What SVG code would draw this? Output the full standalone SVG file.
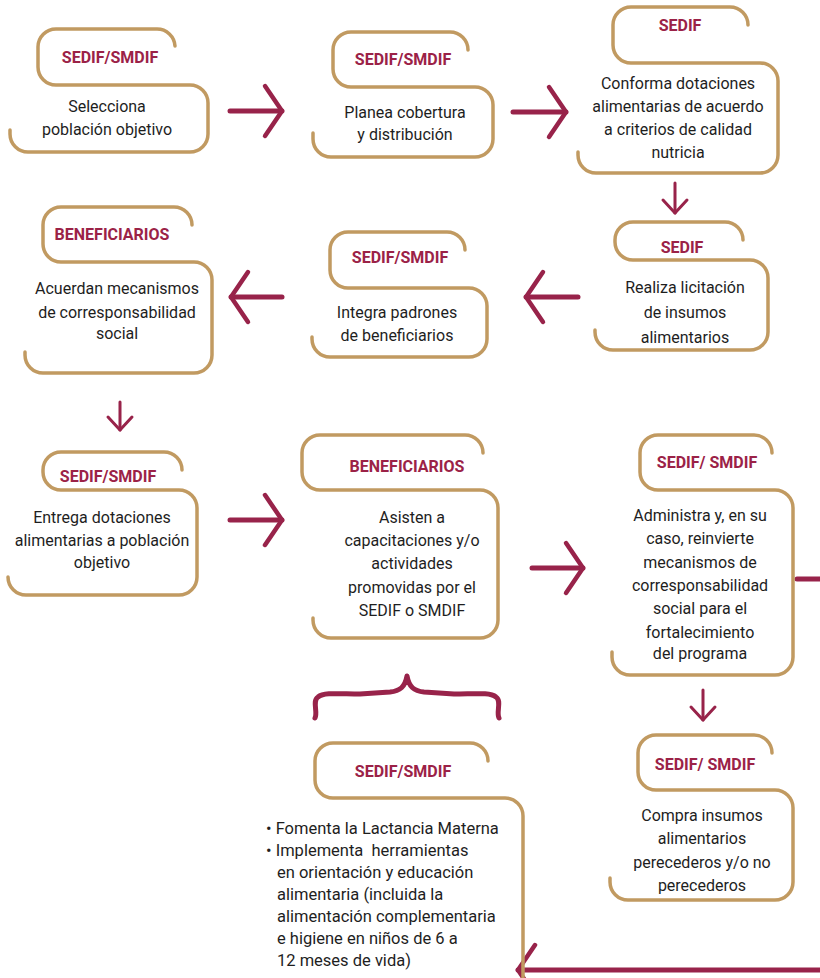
<svg xmlns="http://www.w3.org/2000/svg" width="820" height="978" viewBox="0 0 820 978">
<defs>
<style>
.box{fill:none;stroke:#C19A61;stroke-width:3.5;stroke-linecap:round;stroke-linejoin:round}
.hd{font-family:Roboto,"Liberation Sans",Arial,sans-serif;font-weight:bold;font-size:16px;fill:#9B2247;text-anchor:middle}
.tx{font-family:Roboto,"Liberation Sans",Arial,sans-serif;font-size:16px;fill:#1e1e1e;text-anchor:middle}
.tl{font-family:Roboto,"Liberation Sans",Arial,sans-serif;font-size:16.5px;fill:#1e1e1e;white-space:pre}
.ar{fill:none;stroke:#98234A;stroke-width:5;stroke-linecap:round;stroke-linejoin:round}
.ars{fill:none;stroke:#98234A;stroke-width:3;stroke-linecap:round;stroke-linejoin:round}
</style>
<marker id="chev" markerUnits="userSpaceOnUse" markerWidth="40" markerHeight="60" viewBox="0 0 40 60" refX="30" refY="30" orient="auto" overflow="visible">
<path d="M13,5 L30,30 L13,55" fill="none" stroke="#98234A" stroke-width="4.5" stroke-linecap="round" stroke-linejoin="round"/>
</marker>
<marker id="chevs" markerUnits="userSpaceOnUse" markerWidth="30" markerHeight="30" viewBox="0 0 30 30" refX="20" refY="15" orient="auto" overflow="visible">
<path d="M7,3 L20,15 L7,27" fill="none" stroke="#98234A" stroke-width="3" stroke-linecap="round" stroke-linejoin="round"/>
</marker>
</defs>
<rect width="820" height="978" fill="#fff"/>

<g id="connectors">
<line class="ar" x1="230" y1="111" x2="282" y2="111" marker-end="url(#chev)"/>
<line class="ar" x1="513" y1="112" x2="566" y2="112" marker-end="url(#chev)"/>
<line class="ars" x1="675" y1="183" x2="675" y2="213" marker-end="url(#chevs)"/>
<line class="ar" x1="578" y1="297" x2="526" y2="297" marker-end="url(#chev)"/>
<line class="ar" x1="282" y1="297" x2="231" y2="297" marker-end="url(#chev)"/>
<line class="ars" x1="120" y1="402" x2="120" y2="430" marker-end="url(#chevs)"/>
<line class="ar" x1="230" y1="520" x2="282" y2="520" marker-end="url(#chev)"/>
<line class="ar" x1="532" y1="568" x2="583" y2="568" marker-end="url(#chev)"/>
<line class="ars" x1="703" y1="690" x2="703" y2="720" marker-end="url(#chevs)"/>
<path class="ar" d="M797,579 H832 V970 H518" marker-end="url(#chev)"/>
<path class="ar" d="M315,718 C318,712 312,701 318,697 C324,692 340,694 360,694 L390,692 C400,691 405,687 407,676 C409,687 414,691 424,692 L454,694 C474,694 490,692 496,697 C502,701 496,712 499,718"/>
</g>

<g id="n1">
<path class="box" d="M175,46 A18,18 0 0 0 157,29 H56 A18,18 0 0 0 38,47 V67 A18,18 0 0 0 56,85 H190 A18,18 0 0 1 208,103 V134 A18,18 0 0 1 190,152 H28 A18,18 0 0 1 10,134 V130"/>
<text class="hd" x="110" y="63">SEDIF/SMDIF</text>
<text class="tx" x="107" y="112">Selecciona</text>
<text class="tx" x="107" y="135">población objetivo</text>
</g>

<g id="n2">
<path class="box" d="M468,50 A18,18 0 0 0 450,32 H351 A18,18 0 0 0 333,50 V69 A18,18 0 0 0 351,87 H475 A18,18 0 0 1 493,105 V139 A18,18 0 0 1 475,157 H331 A18,18 0 0 1 313,139 V133"/>
<text class="hd" x="403" y="65">SEDIF/SMDIF</text>
<text class="tx" x="405" y="118">Planea cobertura</text>
<text class="tx" x="405" y="140">y distribución</text>
</g>

<g id="n3">
<path class="box" d="M748,25 A18,18 0 0 0 730,7 H631 A18,18 0 0 0 613,25 V45 A18,18 0 0 0 631,63 H760 A18,18 0 0 1 778,81 V155 A18,18 0 0 1 760,173 H596 A18,18 0 0 1 578,155 V152"/>
<text class="hd" x="680" y="31">SEDIF</text>
<text class="tx" x="678" y="89">Conforma dotaciones</text>
<text class="tx" x="678" y="112">alimentarias de acuerdo</text>
<text class="tx" x="678" y="135">a criterios de calidad</text>
<text class="tx" x="678" y="158">nutricia</text>
</g>

<g id="n4">
<path class="box" d="M743,240 A18,18 0 0 0 725,222 H633 A18,18 0 0 0 615,240 V242 A18,18 0 0 0 633,260 H750 A18,18 0 0 1 768,278 V332 A18,18 0 0 1 750,350 H613 A18,18 0 0 1 595,332 V330"/>
<text class="hd" x="682" y="253">SEDIF</text>
<text class="tx" x="685" y="293">Realiza licitación</text>
<text class="tx" x="685" y="318">de insumos</text>
<text class="tx" x="685" y="343">alimentarios</text>
</g>

<g id="n5">
<path class="box" d="M465,250 A18,18 0 0 0 447,232 H348 A18,18 0 0 0 330,250 V270 A18,18 0 0 0 348,288 H469 A18,18 0 0 1 487,306 V339 A18,18 0 0 1 469,357 H330 A18,18 0 0 1 312,339 V337"/>
<text class="hd" x="400" y="263">SEDIF/SMDIF</text>
<text class="tx" x="397" y="318">Integra padrones</text>
<text class="tx" x="397" y="341">de beneficiarios</text>
</g>

<g id="n6">
<path class="box" d="M192,225 A18,18 0 0 0 174,207 H61 A18,18 0 0 0 43,225 V244 A18,18 0 0 0 61,262 H194 A18,18 0 0 1 212,280 V355 A18,18 0 0 1 194,373 H43 A18,18 0 0 1 25,355 V352"/>
<text class="hd" x="112" y="240">BENEFICIARIOS</text>
<text class="tx" x="117" y="294">Acuerdan mecanismos</text>
<text class="tx" x="117" y="318">de corresponsabilidad</text>
<text class="tx" x="117" y="339">social</text>
</g>

<g id="n7">
<path class="box" d="M182,470 A18,18 0 0 0 164,452 H61 A18,18 0 0 0 43,470 V472 A18,18 0 0 0 61,490 H179 A18,18 0 0 1 197,508 V577 A18,18 0 0 1 179,595 H26 A18,18 0 0 1 8,577"/>
<text class="hd" x="108" y="482">SEDIF/SMDIF</text>
<text class="tx" x="102" y="523">Entrega dotaciones</text>
<text class="tx" x="102" y="546">alimentarias a población</text>
<text class="tx" x="102" y="568">objetivo</text>
</g>

<g id="n8">
<path class="box" d="M483,453 A18,18 0 0 0 465,435 H320 A18,18 0 0 0 302,453 V472 A18,18 0 0 0 320,490 H480 A18,18 0 0 1 498,508 V620 A18,18 0 0 1 480,638 H331 A18,18 0 0 1 313,620 V618"/>
<text class="hd" x="407" y="472">BENEFICIARIOS</text>
<text class="tx" x="412" y="523">Asisten a</text>
<text class="tx" x="412" y="546">capacitaciones y/o</text>
<text class="tx" x="412" y="569">actividades</text>
<text class="tx" x="412" y="593">promovidas por el</text>
<text class="tx" x="412" y="616">SEDIF o SMDIF</text>
</g>

<g id="n9">
<path class="box" d="M772,453 A18,18 0 0 0 754,435 H658 A18,18 0 0 0 640,453 V472 A18,18 0 0 0 658,490 H775 A18,18 0 0 1 793,508 V657 A18,18 0 0 1 775,675 H630 A18,18 0 0 1 612,657 V652"/>
<text class="hd" x="707" y="468">SEDIF/ SMDIF</text>
<text class="tx" x="700" y="521">Administra y, en su</text>
<text class="tx" x="700" y="544">caso, reinvierte</text>
<text class="tx" x="700" y="568">mecanismos de</text>
<text class="tx" x="700" y="591">corresponsabilidad</text>
<text class="tx" x="700" y="614">social para el</text>
<text class="tx" x="700" y="638">fortalecimiento</text>
<text class="tx" x="700" y="659">del programa</text>
</g>

<g id="n10">
<path class="box" d="M772,753 A18,18 0 0 0 754,735 H656 A18,18 0 0 0 638,753 V772 A18,18 0 0 0 656,790 H775 A18,18 0 0 1 793,808 V882 A18,18 0 0 1 775,900 H628 A18,18 0 0 1 610,882 V878"/>
<text class="hd" x="705" y="770">SEDIF/ SMDIF</text>
<text class="tx" x="702" y="821">Compra insumos</text>
<text class="tx" x="702" y="844">alimentarios</text>
<text class="tx" x="702" y="868">perecederos y/o no</text>
<text class="tx" x="702" y="891">perecederos</text>
</g>

<g id="n11">
<path class="box" d="M488,761 A18,18 0 0 0 470,743 H333 A18,18 0 0 0 315,761 V780 A18,18 0 0 0 333,798 H505 A18,18 0 0 1 523,816 V990"/>
<text class="hd" x="403" y="777">SEDIF/SMDIF</text>
<text class="tl" x="266" y="834">• Fomenta la Lactancia Materna</text>
<text class="tl" x="266" y="856">• Implementa  herramientas</text>
<text class="tl" x="277" y="878">en orientación y educación</text>
<text class="tl" x="277" y="900">alimentaria (incluida la</text>
<text class="tl" x="277" y="922">alimentación complementaria</text>
<text class="tl" x="277" y="944">e higiene en niños de 6 a</text>
<text class="tl" x="277" y="966">12 meses de vida)</text>
</g>
</svg>
